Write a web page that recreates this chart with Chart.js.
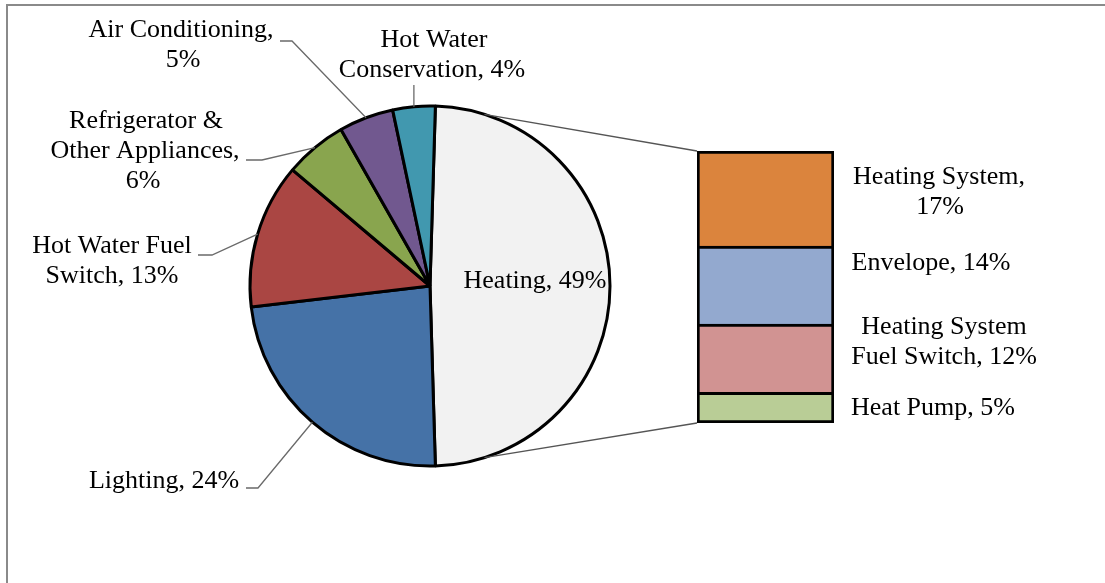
<!DOCTYPE html>
<html><head><meta charset="utf-8">
<script src="https://cdn.jsdelivr.net/npm/chart.js@4"></script>
<style>
html,body{margin:0;padding:0;background:#fff;overflow:hidden;width:1105px;height:583px}
#frame{position:absolute;left:6px;top:4px;width:1200px;height:700px;border-left:2px solid #8a8a8a;border-top:2px solid #8a8a8a}
canvas{position:absolute;left:0;top:0}
</style></head><body>
<div id="frame"></div>
<canvas id="pie" width="1105" height="583"></canvas>
<canvas id="bar" width="1105" height="583"></canvas>
<script>
// ---- data ----
const pieCategories = ['Heating', 'Lighting', 'Hot Water Fuel Switch', 'Refrigerator & Other Appliances', 'Air Conditioning', 'Hot Water Conservation'];
const pieValues = [49.0, 23.6, 13.0, 5.6, 4.9, 3.8];
const pieLabels = ['49%', '24%', '13%', '6%', '5%', '4%'];
const barCategories = ['Heat Pump', 'Heating System Fuel Switch', 'Envelope', 'Heating System'];
const barValues = [5.5, 12.3, 14.0, 17.1];
const barLabels = ['5%', '12%', '14%', '17%'];

// ---- styles / layout ----
const pieColors = ['#F2F2F2', '#4572A7', '#AA4643', '#89A54E', '#71588F', '#4198AF'];
const barColors = ['#B9CD96', '#D19392', '#93A9CF', '#DB843D'];
const FONT = '26px "Liberation Serif", "Times New Roman", serif';
const LINE_H = 30;
// words per line, line centre x's, first line centre y, leader start & elbow
const pieLabelLayout = [
  {words: [2], xs: [535], y: 281},
  {words: [2], xs: [164], y: 481, leader: [[246, 488], [258, 488]]},
  {words: [3, 2], xs: [112, 112], y: 246, leader: [[198, 255], [212, 255]]},
  {words: [2, 2, 1], xs: [146, 145, 143], y: 121, leader: [[246, 160], [262, 160]]},
  {words: [2, 1], xs: [181, 183], y: 30, leader: [[280, 41], [292, 41]]},
  {words: [2, 2], xs: [434, 432], y: 40, leader: [[null, 85]]}
];
const barLabelLayout = [
  {words: [3], xs: [933], y: 408},
  {words: [2, 3], xs: [944, 944], y: 327},
  {words: [2], xs: [931], y: 263},
  {words: [2, 1], xs: [939, 940], y: 177}
];
const CONNECT_ANGLE = 72.4; // degrees from split centre to connector on the pie

function splitWords(text, counts) {
  const w = text.split(' ');
  const out = []; let k = 0;
  for (const c of counts) { out.push(w.slice(k, k + c).join(' ')); k += c; }
  return out;
}
function drawLabel(ctx, text, lay) {
  const lines = splitWords(text, lay.words);
  ctx.save();
  ctx.font = FONT; ctx.fillStyle = '#000'; ctx.textAlign = 'center'; ctx.textBaseline = 'middle';
  lines.forEach((l, i) => ctx.fillText(l, lay.xs[i], lay.y + i * LINE_H));
  ctx.restore();
}

const total = pieValues.reduce((a, b) => a + b, 0);
const rotation = 90 - pieValues[0] / total * 180;

const pieLabelPlugin = {
  id: 'pieLabels',
  afterDatasetsDraw(chart) {
    const ctx = chart.ctx;
    const meta = chart.getDatasetMeta(0);
    meta.data.forEach((el, i) => {
      const lay = pieLabelLayout[i];
      if (lay.leader) {
        const mid = (el.startAngle + el.endAngle) / 2;
        const px = el.x + Math.cos(mid) * el.outerRadius;
        const py = el.y + Math.sin(mid) * el.outerRadius;
        ctx.save();
        ctx.strokeStyle = '#6a6a6a'; ctx.lineWidth = 1.3;
        ctx.beginPath();
        lay.leader.forEach((p, j) => {
          const x = p[0] === null ? px : p[0];
          if (j === 0) ctx.moveTo(x, p[1]); else ctx.lineTo(x, p[1]);
        });
        ctx.lineTo(px, py);
        ctx.stroke();
        ctx.restore();
      }
      drawLabel(ctx, pieCategories[i] + ', ' + pieLabels[i], lay);
    });
  }
};

const pieChart = new Chart(document.getElementById('pie'), {
  type: 'pie',
  data: {
    labels: pieCategories,
    datasets: [{
      data: pieValues, backgroundColor: pieColors, borderColor: '#000', borderWidth: 3, radius: 180
    }]
  },
  options: {
    responsive: false, animation: false, rotation: rotation,
    layout: {padding: {left: 250, right: 495, top: 106, bottom: 117}},
    plugins: {legend: {display: false}, tooltip: {enabled: false}}
  },
  plugins: [pieLabelPlugin]
});

const barExtrasPlugin = {
  id: 'barExtras',
  beforeDatasetsDraw(chart) {
    const ctx = chart.ctx;
    const heat = pieChart.getDatasetMeta(0).data[0];
    const mid = (heat.startAngle + heat.endAngle) / 2;
    const a = CONNECT_ANGLE * Math.PI / 180;
    const bottomEl = chart.getDatasetMeta(0).data[0];
    const topEl = chart.getDatasetMeta(barValues.length - 1).data[0];
    const left = topEl.x - topEl.width / 2;
    ctx.save();
    ctx.strokeStyle = '#555'; ctx.lineWidth = 1.3;
    ctx.beginPath();
    ctx.moveTo(heat.x + Math.cos(mid - a) * heat.outerRadius, heat.y + Math.sin(mid - a) * heat.outerRadius);
    ctx.lineTo(left, topEl.y);
    ctx.moveTo(heat.x + Math.cos(mid + a) * heat.outerRadius, heat.y + Math.sin(mid + a) * heat.outerRadius);
    ctx.lineTo(left, bottomEl.base);
    ctx.stroke();
    ctx.restore();
  },
  afterDatasetsDraw(chart) {
    barCategories.forEach((c, i) => drawLabel(chart.ctx, c + ', ' + barLabels[i], barLabelLayout[i]));
  }
};

new Chart(document.getElementById('bar'), {
  type: 'bar',
  data: {
    labels: ['Heating'],
    datasets: barCategories.map((c, i) => ({
      label: c, data: [barValues[i]], backgroundColor: barColors[i],
      borderColor: '#000', borderWidth: 3, borderSkipped: i === 0 ? false : 'start',
      barPercentage: 1, categoryPercentage: 1
    }))
  },
  options: {
    responsive: false, animation: false,
    layout: {padding: {left: 697, right: 1105 - 834, top: 151, bottom: 583 - 423}},
    scales: {
      x: {display: false, stacked: true},
      y: {display: false, stacked: true, min: 0, max: barValues.reduce((a, b) => a + b, 0)}
    },
    plugins: {legend: {display: false}, tooltip: {enabled: false}}
  },
  plugins: [barExtrasPlugin]
});
</script>
</body></html>
